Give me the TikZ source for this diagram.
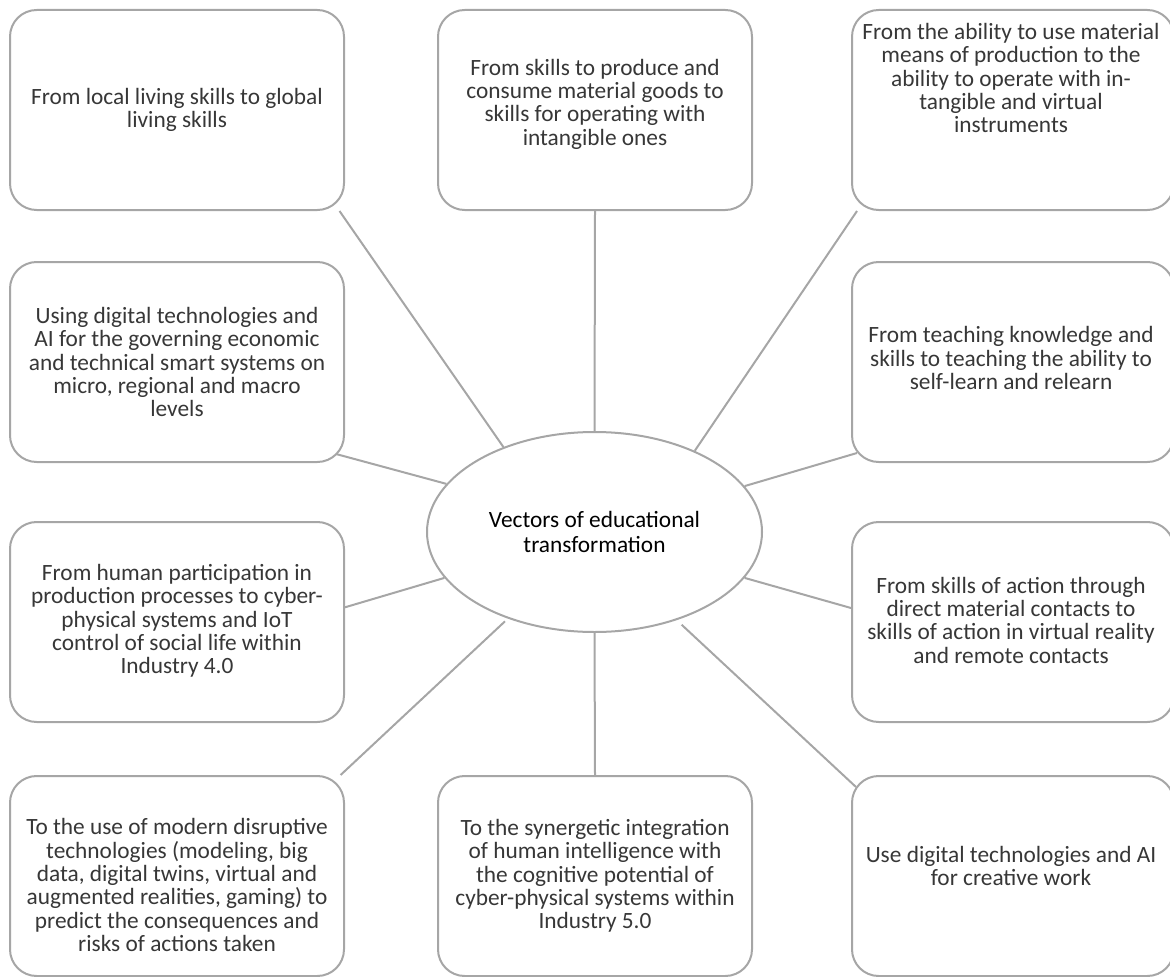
\documentclass[tikz,border=0pt]{standalone}
\usepackage{fontspec}
\setmainfont{Carlito}
\usetikzlibrary{calc,shapes.geometric}
\pgfdeclarelayer{background}
\pgfsetlayers{background,main}
\definecolor{linegray}{RGB}{166,166,166}
\definecolor{txtcol}{RGB}{55,55,55}
\tikzset{
  box/.style={draw=linegray, line width=1.5pt, rounded corners=20pt, fill=white, minimum height=150pt, inner sep=0pt},
  lbox/.style={box, minimum width=250.5pt},
  cbox/.style={box, minimum width=235.5pt},
  rbox/.style={box, minimum width=241.5pt},
  txt/.style={align=center, font=\fontsize{17.5}{17.5}\selectfont, text=txtcol, inner sep=0pt},
  link/.style={draw=linegray, line width=1.5pt},
  hub/.style={ellipse, draw=linegray, line width=1.5pt, fill=white, minimum width=251.25pt, minimum height=150pt, inner sep=0pt, align=center, font=\fontsize{17.5}{19}\selectfont, text=black}
}
\begin{document}
\begin{tikzpicture}[x=0.75pt,y=-0.75pt]
\useasboundingbox (0,0) rectangle (1170,977);
\clip (0,0) rectangle (1170,977);
% boxes
\node[lbox] (tl) at (177,110) {};
\node[cbox] (tc) at (595,110) {};
\node[rbox] (tr) at (1013,110) {};
\node[lbox] (ml) at (177,362) {};
\node[rbox] (mr) at (1013,362) {};
\node[lbox] (l3) at (177,622) {};
\node[rbox] (r3) at (1013,622) {};
\node[lbox] (bl) at (177,876) {};
\node[cbox] (bc) at (595,876) {};
\node[rbox] (br) at (1013,876) {};
\node[hub] (c) at (594.5,532) {Vectors of educational\\transformation};
% texts
\node[txt] (tlt) at (177,110) {From local living skills to global\\living skills};
\node[txt] (tct) at (595,104) {From skills to produce and\\consume material goods to\\skills for operating with\\intangible ones};
\node[txt] (trt) at (1011,78) {From the ability to use material\\means of production to the\\ability to operate with in-\\tangible and virtual\\instruments};
\node[txt] (mlt) at (177,362) {Using digital technologies and\\AI for the governing economic\\and technical smart systems on\\micro, regional and macro\\levels};
\node[txt] (mrt) at (1011,358) {From teaching knowledge and\\skills to teaching the ability to\\self-learn and relearn};
\node[txt] (l3t) at (177,621) {From human participation in\\production processes to cyber-\\physical systems and IoT\\control of social life within\\Industry 4.0};
\node[txt] (r3t) at (1011,620) {From skills of action through\\direct material contacts to\\skills of action in virtual reality\\and remote contacts};
\node[txt] (blt) at (177,885) {To the use of modern disruptive\\technologies (modeling, big\\data, digital twins, virtual and\\augmented realities, gaming) to\\predict the consequences and\\risks of actions taken};
\node[txt] (bct) at (595,876) {To the synergetic integration\\of human intelligence with\\the cognitive potential of\\cyber-physical systems within\\Industry 5.0};
\node[txt] (brt) at (1011,866) {Use digital technologies and AI\\for creative work};
% connectors
\begin{pgfonlayer}{background}
\draw[link] ($(tl.south east)+(-5.5,0)$) -- (c.137);
\draw[link] (tc.south) -- (c.north);
\draw[link] ($(tr.south west)+(6,0)$) -- (c.39.8);
\draw[link] ($(ml.south east)+(-9,-9)$) -- (c.162.5);
\draw[link] ($(mr.south west)+(6,-10)$) -- (c.17.7);
\draw[link] (l3.5) -- (c.197.1);
\draw[link] ($(r3.west)+(0,-14)$) -- (c.-17.1);
\draw[link, shorten >=3pt] ($(bl.north east)+(-4.4,0)$) -- (c.225.8);
\draw[link] (bc.north) -- (c.south);
\draw[link, shorten >=5pt] ($(br.north west)+(5,12)$) -- (c.-47.4);
\end{pgfonlayer}
\end{tikzpicture}
\end{document}
